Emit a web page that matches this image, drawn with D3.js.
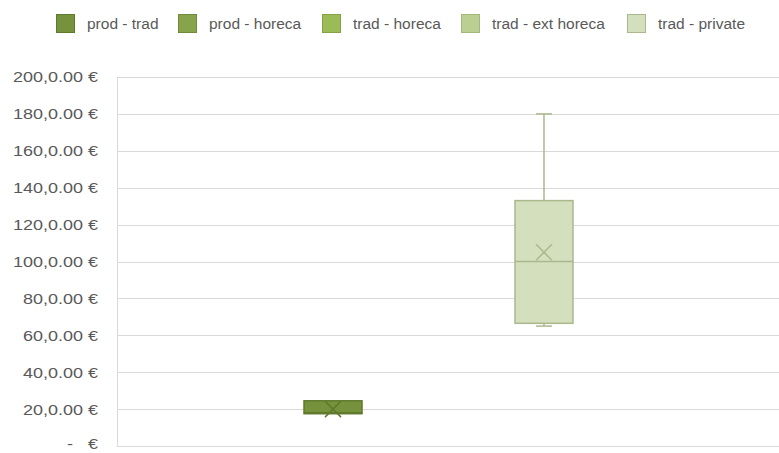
<!DOCTYPE html>
<html>
<head>
<meta charset="utf-8">
<script src="https://cdn.jsdelivr.net/npm/d3@7/dist/d3.min.js"></script>
<style>
  html, body { margin: 0; padding: 0; background: #ffffff; }
  svg { display: block; }
  text { font-family: "Liberation Sans", Arial, sans-serif; fill: #595959; }
</style>
</head>
<body>
<svg id="chart" width="779" height="453"></svg>
<script>
// Series shown in the legend
const seriesNames = ["prod - trad", "prod - horeca", "trad - horeca", "trad - ext horeca", "trad - private"];
const seriesFill = ["#76923c", "#87a34b", "#9bbb59", "#bccf93", "#d3dfbd"];
const seriesStroke = ["#5f7a2c", "#6f8a38", "#84a245", "#a3b87a", "#a9b98d"];

// Box statistics (only these series carry data)
const boxSeries = ["prod - trad", "trad - private"];
const boxMin = [17.5, 65];
const boxQ1 = [17.5, 66.5];
const boxMedian = [18, 100];
const boxQ3 = [24.5, 133];
const boxMax = [24.5, 180];
const boxMean = [20, 105];

// Value axis (accounting style: zero shown as a dash)
const yTicks = [0, 20, 40, 60, 80, 100, 120, 140, 160, 180, 200];
const yTickLabels = ["-\u00a0\u00a0\u00a0€", "20,0.00 €", "40,0.00 €", "60,0.00 €", "80,0.00 €", "100,0.00 €",
  "120,0.00 €", "140,0.00 €", "160,0.00 €", "180,0.00 €", "200,0.00 €"];

const svg = d3.select("#chart");
const plot = { left: 117, right: 779, top: 77, bottom: 446 };

const y = d3.scaleLinear().domain([0, 200]).range([plot.bottom, plot.top]);
const x = d3.scaleBand().domain(boxSeries).range([304, 573]).paddingInner(0.725);

// Gridlines
svg.append("g").selectAll("line").data(yTicks).join("line")
  .attr("x1", plot.left).attr("x2", plot.right)
  .attr("y1", d => Math.round(y(d)) + 0.5).attr("y2", d => Math.round(y(d)) + 0.5)
  .attr("stroke", "#d9d9d9").attr("stroke-width", 1);

// Left axis line
svg.append("line")
  .attr("x1", plot.left + 0.5).attr("x2", plot.left + 0.5)
  .attr("y1", plot.top).attr("y2", plot.bottom)
  .attr("stroke", "#d9d9d9");

// Tick labels (slightly wide lettering)
svg.append("g").selectAll("text").data(yTicks).join("text")
  .attr("transform", d => `translate(98,${Math.min(y(d), 444)}) scale(1.16,1)`)
  .attr("dy", "0.35em")
  .attr("text-anchor", "end")
  .attr("font-size", 15.5)
  .text((d, i) => yTickLabels[i]);

// Boxes
const boxes = boxSeries.map((s, i) => ({
  name: s, idx: seriesNames.indexOf(s),
  min: boxMin[i], q1: boxQ1[i], med: boxMedian[i], q3: boxQ3[i], max: boxMax[i], mean: boxMean[i]
}));

const g = svg.append("g").selectAll("g").data(boxes).join("g");
const bw = x.bandwidth();
const capW = 16;

g.each(function(d) {
  const sel = d3.select(this);
  const cx = x(d.name) + bw / 2;
  const fill = seriesFill[d.idx];
  const stroke = seriesStroke[d.idx];
  // whiskers
  if (d.max > d.q3) {
    sel.append("line").attr("x1", cx).attr("x2", cx).attr("y1", y(d.q3)).attr("y2", y(d.max))
      .attr("stroke", stroke).attr("stroke-width", 1.5);
    sel.append("line").attr("x1", cx - capW / 2).attr("x2", cx + capW / 2).attr("y1", y(d.max)).attr("y2", y(d.max))
      .attr("stroke", stroke).attr("stroke-width", 1.5);
  }
  if (d.min < d.q1) {
    sel.append("line").attr("x1", cx).attr("x2", cx).attr("y1", y(d.q1)).attr("y2", y(d.min))
      .attr("stroke", stroke).attr("stroke-width", 1.5);
    sel.append("line").attr("x1", cx - capW / 2).attr("x2", cx + capW / 2).attr("y1", y(d.min)).attr("y2", y(d.min))
      .attr("stroke", stroke).attr("stroke-width", 1.5);
  }
  // box
  sel.append("rect")
    .attr("x", x(d.name)).attr("width", bw)
    .attr("y", y(d.q3)).attr("height", y(d.q1) - y(d.q3))
    .attr("fill", fill).attr("stroke", stroke).attr("stroke-width", 1.5);
  // median
  sel.append("line").attr("x1", x(d.name)).attr("x2", x(d.name) + bw)
    .attr("y1", y(d.med)).attr("y2", y(d.med))
    .attr("stroke", stroke).attr("stroke-width", 1.5);
  // mean marker
  const m = 8;
  const my = y(d.mean);
  sel.append("path")
    .attr("d", `M${cx - m},${my - m}L${cx + m},${my + m}M${cx - m},${my + m}L${cx + m},${my - m}`)
    .attr("stroke", stroke).attr("stroke-width", 1.5).attr("fill", "none");
});

// Legend
const legendX = [56, 178, 322, 461, 627];
const leg = svg.append("g").selectAll("g").data(seriesNames).join("g")
  .attr("transform", (d, i) => `translate(${legendX[i]},14)`);
leg.append("rect").attr("x", 0.5).attr("y", 0.5).attr("width", 18).attr("height", 18)
  .attr("fill", (d, i) => seriesFill[i]).attr("stroke", (d, i) => seriesStroke[i]);
leg.append("text").attr("x", 31).attr("y", 9.5).attr("dy", "0.35em")
  .attr("font-size", 15.5).text(d => d);
</script>
</body>
</html>
